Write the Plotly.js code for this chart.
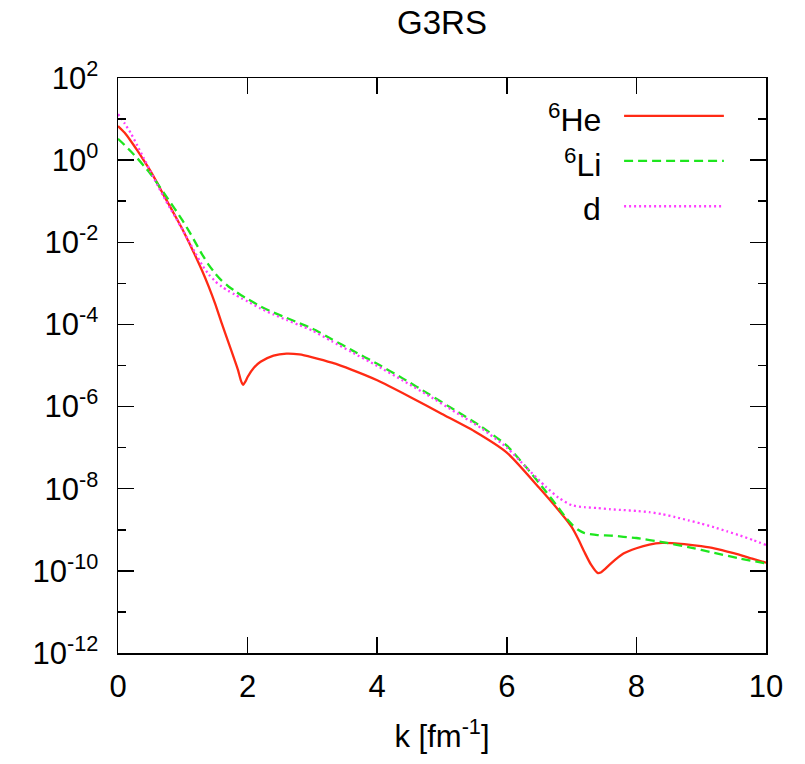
<!DOCTYPE html>
<html>
<head>
<meta charset="utf-8">
<script src="https://cdn.plot.ly/plotly-3.0.1.min.js"></script>
<style>html,body{margin:0;padding:0;background:#fff;}#chart{width:805px;height:764px;}</style>
</head>
<body>
<div id="chart"></div>
<script>
// ---- data (k in fm^-1) ----
var kHe = [0.0,0.1,0.2,0.3,0.4,0.5,0.6,0.7,0.8,0.9,1.0,1.1,1.2,1.3,1.4,1.5,1.6,1.7,1.8,1.85,1.9,1.93,1.97,2.0,2.1,2.2,2.4,2.6,2.8,3.0,3.3,3.6,4.0,4.5,5.0,5.5,6.0,6.5,6.9,7.0,7.1,7.2,7.3,7.4,7.45,7.5,7.6,7.8,8.0,8.2,8.4,8.6,8.8,9.0,9.2,9.5,9.8,10.0];
var valHe = [6.76,4.68,2.88,1.70,9.77e-1,5.50e-1,2.88e-1,1.45e-1,7.59e-2,3.89e-2,2.00e-2,9.55e-3,4.47e-3,2.00e-3,8.32e-4,3.16e-4,1.07e-4,3.80e-5,1.35e-5,7.94e-6,4.17e-6,3.39e-6,4.17e-6,5.25e-6,8.91e-6,1.23e-5,1.74e-5,1.95e-5,1.86e-5,1.58e-5,1.17e-5,7.94e-6,4.37e-6,1.74e-6,6.61e-7,2.51e-7,7.59e-8,1.05e-8,1.91e-9,1.17e-9,6.03e-10,2.82e-10,1.41e-10,8.91e-11,9.12e-11,1.05e-10,1.48e-10,2.63e-10,3.55e-10,4.37e-10,4.79e-10,4.68e-10,4.37e-10,3.98e-10,3.55e-10,2.69e-10,1.95e-10,1.58e-10];

var kLi = [0.0,0.1,0.2,0.3,0.4,0.5,0.6,0.7,0.8,0.9,1.0,1.1,1.2,1.3,1.4,1.5,1.6,1.7,1.8,1.9,2.0,2.2,2.4,2.6,2.8,3.0,3.3,3.6,4.0,4.4,4.8,5.2,5.6,6.0,6.3,6.6,6.8,6.9,7.0,7.1,7.2,7.4,7.6,7.8,8.0,8.4,8.8,9.2,9.6,10.0];
var valLi = [3.31,2.34,1.62,1.10,7.24e-1,4.68e-1,2.82e-1,1.66e-1,9.77e-2,5.75e-2,3.31e-2,1.82e-2,9.55e-3,5.01e-3,2.82e-3,1.74e-3,1.17e-3,8.51e-4,6.61e-4,5.13e-4,4.17e-4,2.75e-4,1.95e-4,1.45e-4,1.07e-4,7.94e-5,4.37e-5,2.40e-5,1.10e-5,4.79e-6,2.00e-6,8.13e-7,3.31e-7,1.12e-7,3.31e-8,8.71e-9,3.39e-9,2.09e-9,1.38e-9,1.00e-9,8.32e-10,7.41e-10,7.24e-10,6.76e-10,6.31e-10,5.01e-10,3.80e-10,2.75e-10,2.00e-10,1.51e-10];

var kD = [0.0,0.1,0.2,0.3,0.4,0.5,0.6,0.7,0.8,0.9,1.0,1.1,1.2,1.3,1.4,1.5,1.6,1.7,1.8,1.9,2.0,2.2,2.4,2.6,2.8,3.0,3.3,3.6,4.0,4.4,4.8,5.2,5.6,6.0,6.3,6.6,6.8,7.0,7.2,7.4,7.6,7.8,8.0,8.2,8.4,8.6,8.8,9.0,9.2,9.4,9.6,9.8,10.0];
var valD = [13.2,7.94,4.47,2.24,1.10,5.37e-1,2.63e-1,1.32e-1,6.92e-2,3.72e-2,1.95e-2,1.02e-2,5.25e-3,2.75e-3,1.66e-3,1.12e-3,8.32e-4,6.61e-4,5.37e-4,4.37e-4,3.63e-4,2.45e-4,1.74e-4,1.29e-4,9.55e-5,7.08e-5,3.89e-5,2.14e-5,9.77e-6,4.27e-6,1.82e-6,7.41e-7,3.02e-7,1.00e-7,3.31e-8,1.12e-8,6.03e-9,3.98e-9,3.55e-9,3.39e-9,3.16e-9,3.02e-9,2.88e-9,2.69e-9,2.40e-9,2.04e-9,1.70e-9,1.41e-9,1.15e-9,9.12e-10,7.24e-10,5.62e-10,4.27e-10];

var seriesNames = ['<sup>6</sup>He', '<sup>6</sup>Li', 'd'];

var xTickVals = [0,2,4,6,8,10];
var xTickText = ['0','2','4','6','8','10'];
var yTickVals = [1e2,1e0,1e-2,1e-4,1e-6,1e-8,1e-10,1e-12];
var yTickText = ['10<sup>2</sup>','10<sup>0</sup>','10<sup>-2</sup>','10<sup>-4</sup>','10<sup>-6</sup>','10<sup>-8</sup>','10<sup>-10</sup>','10<sup>-12</sup>'];
var yMinorVals = [1e1,1e-1,1e-3,1e-5,1e-7,1e-9,1e-11];

// ---- styling ----
var FONT = 'Liberation Sans, Arial, Helvetica, sans-serif';
var colors = ['#ff2a14', '#1ee61e', '#ff3cff'];
var dashes = ['solid', '9px,5px', '2px,3px'];

var traces = [
  {x: kHe, y: valHe, name: seriesNames[0], mode: 'lines', line: {color: colors[0], width: 2.3, dash: dashes[0], shape: 'spline', smoothing: 0.6}},
  {x: kLi, y: valLi, name: seriesNames[1], mode: 'lines', line: {color: colors[1], width: 2.3, dash: dashes[1], shape: 'spline', smoothing: 0.6}},
  {x: kD, y: valD, name: seriesNames[2], mode: 'lines', line: {color: colors[2], width: 2.3, dash: dashes[2], shape: 'spline', smoothing: 0.6}}
];

// legend (gnuplot style: label left, sample right)
var legY = [0.934, 0.856, 0.777];
var shapes = [], annotations = [];
for (var i = 0; i < 3; i++) {
  shapes.push({type: 'line', xref: 'paper', yref: 'paper', x0: 0.781, x1: 0.935, y0: legY[i], y1: legY[i],
               line: {color: colors[i], width: 2.3, dash: dashes[i]}});
  annotations.push({xref: 'paper', yref: 'paper', x: 0.749, y: legY[i] - 0.004, xanchor: 'right', yanchor: 'middle',
                    text: seriesNames[i], showarrow: false, font: {family: FONT, size: 32, color: '#000'}});
}

var layout = {
  width: 805, height: 764,
  margin: {l: 118, r: 39, t: 78, b: 111, pad: 0},
  paper_bgcolor: '#fff', plot_bgcolor: '#fff',
  showlegend: false,
  font: {family: FONT, size: 31, color: '#000'},
  title: {text: 'G3RS', font: {family: FONT, size: 33, color: '#000'}, xref: 'paper', x: 0.5, xanchor: 'center', yref: 'container', y: 0.970, yanchor: 'middle'},
  xaxis: {
    range: [0, 10], tickmode: 'array', tickvals: xTickVals, ticktext: xTickText,
    ticks: 'inside', ticklen: 16, tickwidth: 1.5, tickcolor: '#000', ticklabelstandoff: 5,
    showline: true, linecolor: '#000', linewidth: 1.5, mirror: 'ticks',
    showgrid: false, zeroline: false,
    tickfont: {family: FONT, size: 31, color: '#000'},
    title: {text: 'k [fm<sup>-1</sup>]', font: {family: FONT, size: 31, color: '#000'}, standoff: 22}
  },
  yaxis: {
    type: 'log', range: [-12, 2], tickmode: 'array', tickvals: yTickVals, ticktext: yTickText,
    ticks: 'inside', ticklen: 16, tickwidth: 1.5, tickcolor: '#000', ticklabelstandoff: 12,
    minor: {tickmode: 'array', tickvals: yMinorVals, ticks: 'inside', ticklen: 8, tickwidth: 1.5, tickcolor: '#000', showgrid: false},
    showline: true, linecolor: '#000', linewidth: 1.5, mirror: 'ticks',
    showgrid: false, zeroline: false,
    tickfont: {family: FONT, size: 31, color: '#000'}
  },
  shapes: shapes,
  annotations: annotations
};

Plotly.newPlot('chart', traces, layout, {staticPlot: true, displayModeBar: false});
</script>
</body>
</html>
